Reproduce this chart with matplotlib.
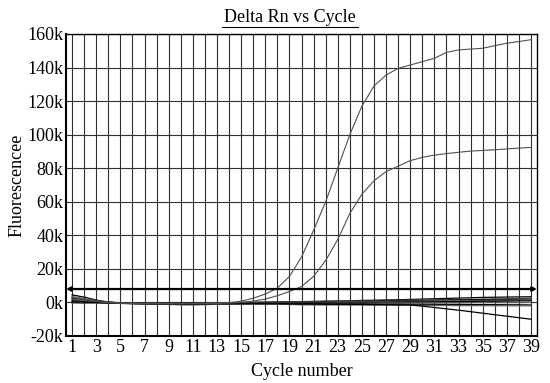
import numpy as np
import matplotlib
matplotlib.use('Agg')
import matplotlib.pyplot as plt
from matplotlib.lines import Line2D

plt.rcParams['font.family'] = ['Liberation Serif', 'DejaVu Serif']

# ============================================
# DATA (fluorescence in thousands)
# ============================================

cycles = list(range(1, 40))

amp_high = [3.0, 2.0, 0.8, 0.0, -0.4, -0.5, -0.6, -0.6, -0.7, -0.7, -0.7, -0.6, -0.5, -0.2,
            0.8, 2.5, 5.0, 8.5, 15.5, 27.0, 43.0, 60.0, 80.0, 100.0, 117.0, 129.0, 135.5,
            139.5, 141.5, 143.5, 145.5, 149.0, 150.5, 151.0, 151.5, 153.0, 154.5, 155.5, 156.6]

amp_low = [2.0, 1.4, 0.6, 0.0, -0.4, -0.5, -0.6, -0.6, -0.6, -0.6, -0.6, -0.5, -0.4, -0.3,
           0.0, 0.8, 2.0, 4.0, 6.5, 9.5, 15.5, 25.0, 37.5, 53.0, 64.5, 72.5, 78.0, 81.2,
           84.5, 86.5, 87.8, 88.7, 89.5, 90.2, 90.6, 91.0, 91.5, 92.0, 92.4]

baseline = [
    [4.5, 3.2, 1.4, 0.3, -0.2, -0.4, -0.5, -0.5, -0.5, -0.4, -0.4, -0.3, -0.2, -0.1, 0.0, 0.1,
     0.2, 0.3, 0.4, 0.5, 0.6, 0.8, 0.9, 1.0, 1.2, 1.3, 1.5, 1.6, 1.8, 2.0, 2.2, 2.4, 2.6, 2.8,
     3.0, 3.1, 3.2, 3.3, 3.4],
    [3.5, 2.4, 1.0, 0.2, -0.3, -0.5, -0.6, -0.6, -0.6, -0.5, -0.5, -0.4, -0.3, -0.2, -0.1, 0.0,
     0.1, 0.2, 0.3, 0.4, 0.5, 0.6, 0.7, 0.8, 0.9, 1.0, 1.1, 1.2, 1.3, 1.4, 1.5, 1.6, 1.8, 1.9,
     2.0, 2.1, 2.2, 2.4, 2.6],
    [2.5, 1.5, 0.8, 0.1, -0.3, -0.5, -0.6, -0.7, -0.7, -0.6, -0.6, -0.5, -0.4, -0.3, -0.2, -0.2,
     -0.1, 0.0, 0.1, 0.2, 0.3, 0.4, 0.5, 0.6, 0.7, 0.8, 0.9, 1.0, 1.1, 1.2, 1.3, 1.4, 1.5, 1.6,
     1.7, 1.8, 1.8, 1.9, 2.0],
    [1.5, 0.9, 0.5, 0.0, -0.3, -0.5, -0.6, -0.7, -0.8, -0.8, -0.7, -0.6, -0.5, -0.4, -0.4, -0.3,
     -0.3, -0.2, -0.1, 0.0, 0.1, 0.2, 0.3, 0.3, 0.4, 0.5, 0.6, 0.7, 0.8, 0.8, 0.9, 1.0, 1.1, 1.1,
     1.2, 1.3, 1.3, 1.4, 1.5],
    [1.0, 0.4, 0.2, -0.1, -0.4, -0.6, -0.7, -0.8, -0.9, -0.9, -0.8, -0.7, -0.7, -0.6, -0.5, -0.5,
     -0.4, -0.4, -0.3, -0.3, -0.2, -0.2, -0.1, -0.1, 0.0, 0.1, 0.1, 0.2, 0.3, 0.3, 0.4, 0.5, 0.5,
     0.6, 0.7, 0.7, 0.8, 0.9, 1.0],
    [0.5, 0.1, 0.0, -0.2, -0.4, -0.6, -0.8, -0.9, -1.0, -1.0, -1.0, -0.9, -0.8, -0.7, -0.7, -0.6,
     -0.6, -0.6, -0.5, -0.5, -0.5, -0.5, -0.4, -0.4, -0.4, -0.4, -0.3, -0.3, -0.3, -0.3, -0.2,
     -0.2, -0.2, -0.2, -0.1, -0.1, -0.1, -0.1, 0.0],
    [0.0, -0.3, -0.2, -0.3, -0.5, -0.7, -0.9, -1.0, -1.1, -1.2, -1.2, -1.1, -1.0, -0.9, -0.8,
     -0.8, -0.8, -0.8, -0.8, -0.8, -0.8, -0.9, -0.9, -0.9, -0.9, -1.0, -1.0, -1.0, -1.1, -1.1,
     -1.1, -1.2, -1.2, -1.3, -1.3, -1.3, -1.4, -1.4, -1.5],
    [-0.3, -0.2, -0.3, -0.4, -0.6, -0.8, -0.9, -1.0, -1.2, -1.4, -1.5, -1.3, -1.1, -0.9, -0.8,
     -0.8, -0.9, -1.0, -1.2, -1.4, -1.5, -1.5, -1.5, -1.5, -1.5, -1.6, -1.6, -1.7, -1.7, -1.8,
     -1.8, -1.8, -1.9, -1.9, -1.9, -2.0, -2.0, -2.0, -2.0],
    [0.3, 0.2, 0.0, -0.3, -0.5, -0.6, -0.7, -0.8, -0.9, -0.9, -0.9, -0.9, -0.8, -0.8, -0.8, -0.8,
     -0.8, -0.8, -0.9, -1.0, -1.0, -1.1, -1.1, -1.2, -1.2, -1.3, -1.3, -1.4, -1.5, -2.2, -3.0,
     -3.8, -4.6, -5.5, -6.4, -7.3, -8.2, -9.1, -10.0],
]

threshold = 8.0

y_ticks = [-20, 0, 20, 40, 60, 80, 100, 120, 140, 160]
x_tick_labels = list(range(1, 40, 2))

# ============================================
# PLOT
# ============================================

fig = plt.figure(figsize=(5.5, 3.83), dpi=100)
ax = fig.add_axes([66 / 550, 1 - 336 / 383, 471 / 550, 302 / 383])

# grid: one vertical line per cycle, horizontal every 20k
for c in cycles:
    ax.axvline(c, color='#303030', lw=0.8, zorder=1)
for v in y_ticks:
    ax.axhline(v, color='#303030', lw=0.8, zorder=1)

for i, row in enumerate(baseline):
    ax.plot(cycles, row, color='black' if i % 2 == 0 else '#606060', lw=0.9, zorder=3)

ax.plot(cycles, amp_high, color='#505050', lw=0.8, zorder=3)
ax.plot(cycles, amp_low, color='#505050', lw=0.8, zorder=3)

# threshold line with arrow heads at both ends
ax.annotate('', xy=(0.5, threshold), xytext=(39.5, threshold),
            arrowprops=dict(arrowstyle='<|-|>', color='black', lw=1.6,
                            mutation_scale=6, shrinkA=0, shrinkB=0),
            zorder=4, annotation_clip=False)

fs = 13
ax.set_xlim(0.5, 39.5)
ax.set_ylim(-20, 160)
ax.set_xticks(x_tick_labels)
ax.set_xticklabels([str(c) for c in x_tick_labels], fontsize=fs)
ax.set_yticks(y_ticks)
ax.set_yticklabels([f'{v}k' for v in y_ticks], fontsize=fs)
ax.tick_params(length=0, pad=2)

for s in ax.spines.values():
    s.set_color('black')
    s.set_linewidth(1.0)
ax.spines['left'].set_linewidth(1.5)
ax.spines['bottom'].set_linewidth(1.5)

ax.set_xlabel('Cycle number', fontsize=fs, labelpad=5)
ax.set_ylabel('Fluorescencee', fontsize=fs)
ax.yaxis.set_label_coords(-0.087, 0.5)

# underlined title
fig.text(290 / 550, 1 - 18 / 383, 'Delta Rn vs Cycle', ha='center', va='center', fontsize=fs)
fig.add_artist(Line2D([222 / 550, 358 / 550], [1 - 27 / 383, 1 - 27 / 383],
                     color='black', lw=0.8))

fig.savefig('out.png', dpi=100)
print("Saved out.png")
